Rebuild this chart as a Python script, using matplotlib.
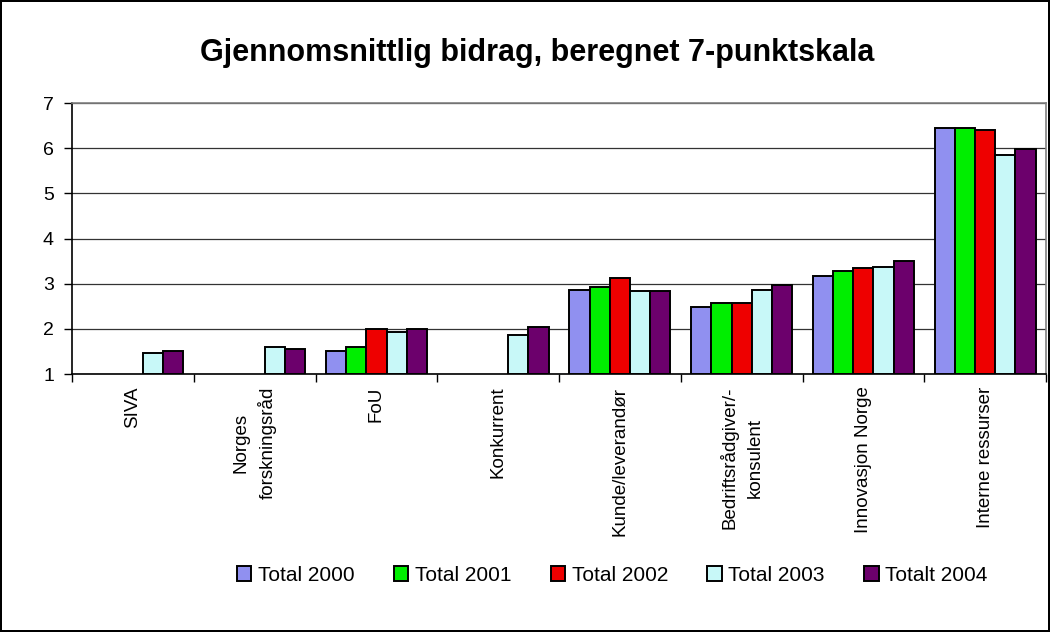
import numpy as np
import matplotlib.pyplot as plt
from matplotlib.ticker import FixedLocator, NullFormatter

plt.rcParams['font.family'] = ['Liberation Sans', 'DejaVu Sans']

categories = ['SIVA', 'Norges\nforskningsråd', 'FoU', 'Konkurrent', 'Kunde/leverandør',
              'Bedriftsrådgiver/-\nkonsulent', 'Innovasjon Norge', 'Interne ressurser']
series_names = ['Total 2000', 'Total 2001', 'Total 2002', 'Total 2003', 'Totalt 2004']
nan = np.nan
total_2000 = [nan, nan, 1.52, nan, 2.87, 2.49, 3.17, 6.44]
total_2001 = [nan, nan, 1.60, nan, 2.92, 2.58, 3.29, 6.44]
total_2002 = [nan, nan, 1.99, nan, 3.13, 2.58, 3.34, 6.40]
total_2003 = [1.47, 1.60, 1.94, 1.86, 2.83, 2.87, 3.38, 5.85]
totalt_2004 = [1.52, 1.56, 1.99, 2.03, 2.83, 2.96, 3.51, 5.98]
colors = ['#9090f0', '#00ee00', '#ee0000', '#c8f8f8', '#6c006c']

series = [total_2000, total_2001, total_2002, total_2003, totalt_2004]

fig = plt.figure(figsize=(10.5, 6.32), dpi=100, linewidth=1.5, edgecolor='black')
ax = fig.add_axes([0.0686, 0.4082, 0.9276, 0.4288])

x = np.arange(len(categories))
w = 0.166
for i, (vals, name, c) in enumerate(zip(series, series_names, colors)):
    vals = np.array(vals, dtype=float)
    ax.bar(x + (i - 2) * w, vals - 1, bottom=1, width=w, color=c,
           edgecolor='black', linewidth=1.4, label=name, zorder=3)

ax.set_ylim(1, 7)
ax.set_xlim(-0.5, len(categories) - 0.5)
ax.set_yticks(range(1, 8))
ax.tick_params(axis='y', labelsize=14, length=6, direction='out', width=1, pad=7)
ax.grid(axis='y', color='#333333', linewidth=0.9, zorder=0)

# labels at category centres, tick marks at boundaries
ax.set_xticks(x)
ax.set_xticklabels(categories, rotation=90, fontsize=13.5, va='top', ha='center',
                   multialignment='center', linespacing=1.6)
ax.tick_params(axis='x', which='major', length=0, pad=9)
ax.xaxis.set_minor_locator(FixedLocator(np.arange(-0.5, len(categories), 1.0)))
ax.xaxis.set_minor_formatter(NullFormatter())
ax.tick_params(axis='x', which='minor', length=6, width=1)

for side in ['top', 'right']:
    ax.spines[side].set_color('#808080')
    ax.spines[side].set_linewidth(1.2)
ax.spines['bottom'].set_linewidth(1.2)
ax.spines['left'].set_linewidth(1.2)

fig.suptitle('Gjennomsnittlig bidrag, beregnet 7-punktskala', x=0.512, y=0.94,
             fontsize=22, fontweight='bold')

fig.legend(loc='center', bbox_to_anchor=(0.583, 0.09), ncol=5, frameon=False,
           fontsize=15, handlelength=0.7, handleheight=0.7, handletextpad=0.3,
           columnspacing=1.9)

fig.savefig('out.png', dpi=100, edgecolor=fig.get_edgecolor())
